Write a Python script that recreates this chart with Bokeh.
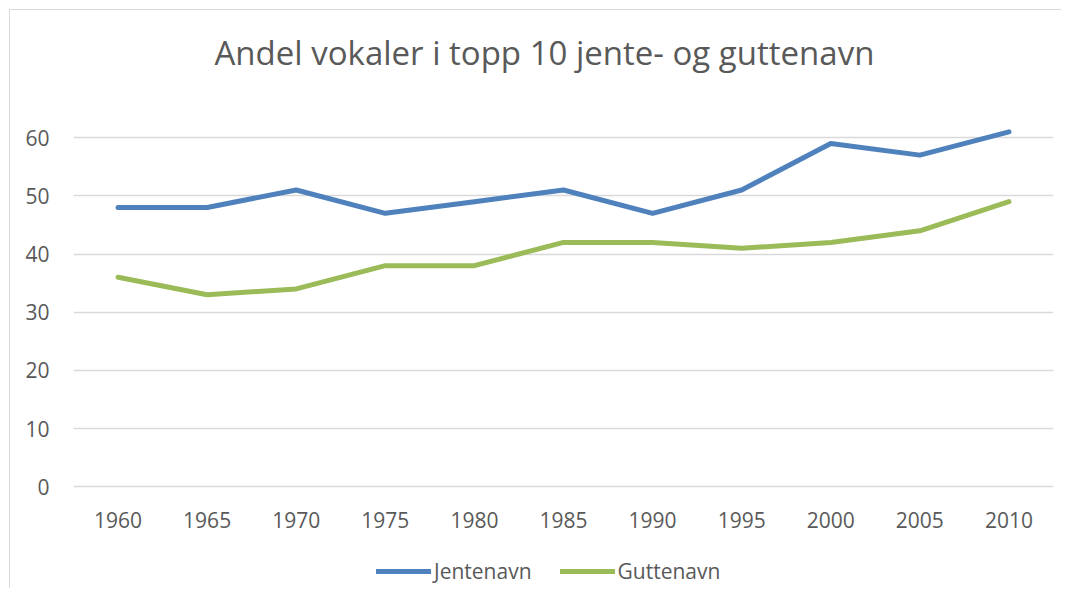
from bokeh.plotting import figure
from bokeh.models import Legend, LegendItem, Range1d, FixedTicker
from bokeh.layouts import column
from bokeh.embed import file_html
from bokeh.resources import INLINE

years = ["1960", "1965", "1970", "1975", "1980", "1985", "1990", "1995", "2000", "2005", "2010"]
jentenavn = [48, 48, 51, 47, 49, 51, 47, 51, 59, 57, 61]
guttenavn = [36, 33, 34, 38, 38, 42, 42, 41, 42, 44, 49]
y_ticks = [0, 10, 20, 30, 40, 50, 60]
series_names = ["Jentenavn", "Guttenavn"]
series_colors = ["#4F81BD", "#9BBB59"]
series_values = [jentenavn, guttenavn]

TEXT = "#595959"
FONT = "Open Sans"

p = figure(x_range=years, y_range=Range1d(-0.3, 70), frame_width=980, frame_height=409,
           output_backend="svg", toolbar_location=None,
           min_border_left=63, min_border_right=8, min_border_top=69, min_border_bottom=50)

p.title.text = "Andel vokaler i topp 10 jente- og guttenavn"
p.title.align = "left"
p.title.offset = 141
p.title.text_font = FONT
p.title.text_font_size = "33px"
p.title.text_font_style = "normal"
p.title.text_color = TEXT
p.title.standoff = 10

for vals, color in zip(series_values, series_colors):
    p.line(years, vals, line_color=color, line_width=5, line_cap="round", line_join="round")

p.outline_line_color = None
p.xgrid.grid_line_color = None
p.ygrid.grid_line_color = "#d9d9d9"
p.ygrid.grid_line_width = 1.5
p.yaxis.ticker = FixedTicker(ticks=y_ticks)

for ax in (p.xaxis[0], p.yaxis[0]):
    ax.axis_line_color = None
    ax.major_tick_line_color = None
    ax.minor_tick_line_color = None
    ax.major_label_text_font = FONT
    ax.major_label_text_font_size = "21px"
    ax.major_label_text_color = TEXT
p.yaxis.major_label_standoff = 18
p.xaxis.major_label_standoff = 17

# legend strip below the chart (its series sit outside the visible y range)
lg = figure(width=1051, height=50, x_range=p.x_range, y_range=Range1d(-200, -150),
            output_backend="svg", toolbar_location=None,
            min_border_left=0, min_border_right=0, min_border_top=0, min_border_bottom=0)
lg.axis.visible = False
lg.grid.visible = False
lg.outline_line_color = None
items = []
for name, vals, color in zip(series_names, series_values, series_colors):
    rr = lg.line(years, vals, line_color=color, line_width=5, line_cap="round")
    items.append(LegendItem(label=name, renderers=[rr]))

legend = Legend(items=items, orientation="horizontal", location=(303, 3),
                label_text_font=FONT, label_text_font_size="21px", label_text_color=TEXT,
                glyph_width=55, glyph_height=20, label_standoff=3, spacing=28,
                border_line_color=None, background_fill_alpha=0, margin=0, padding=0)
lg.add_layout(legend, "center")

layout = column(p, lg, spacing=0)
layout.styles = {"margin-left": "9px", "margin-top": "9px",
                 "border-left": "1px solid #d9d9d9", "border-top": "1px solid #d9d9d9"}

open("out.html", "w").write(file_html(layout, INLINE))
